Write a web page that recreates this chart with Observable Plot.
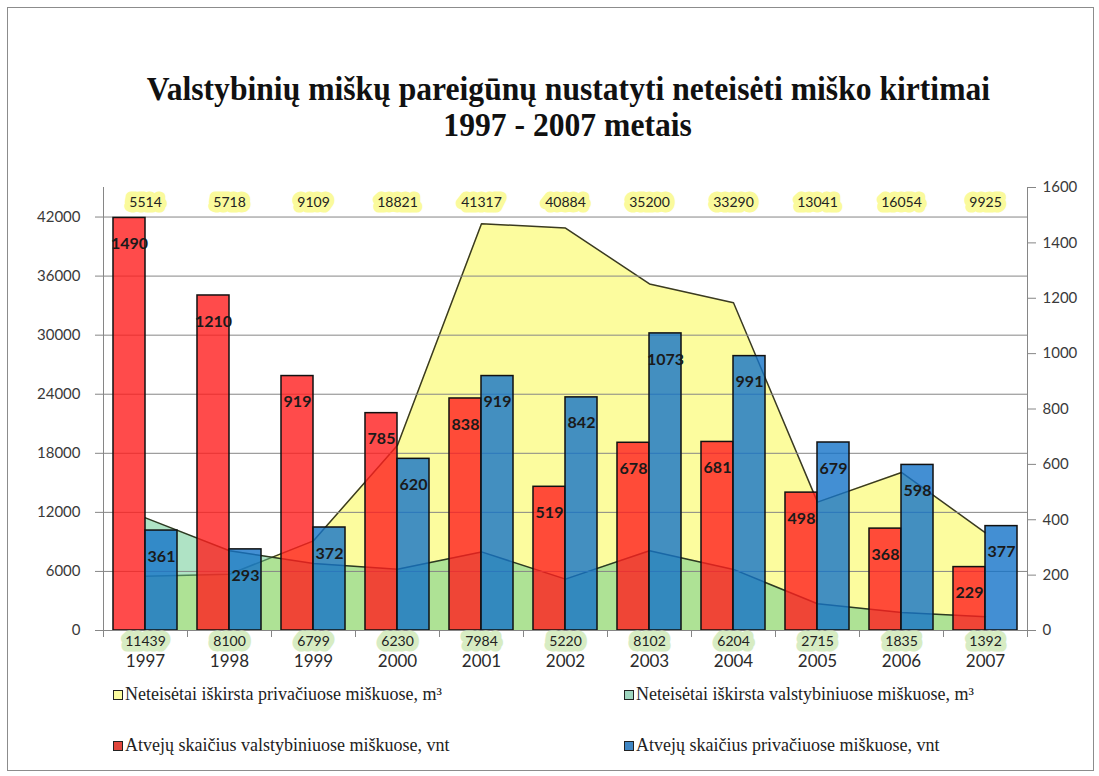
<!DOCTYPE html>
<html><head><meta charset="utf-8">
<script src="https://cdn.jsdelivr.net/npm/d3@7"></script>
<script src="https://cdn.jsdelivr.net/npm/@observablehq/plot@0.6"></script>
<style>
body{margin:0;background:#fff;}
#wrap{position:relative;width:1099px;height:776px;overflow:hidden;background:#fff;}
#frame{position:absolute;left:7px;top:7px;width:1085px;height:762px;border:1px solid #8c8c8c;}
#title{position:absolute;left:0;top:71px;width:1136px;text-align:center;font:bold 34px "Liberation Serif";line-height:36px;color:#111;}
#title span{display:inline-block;transform:scaleX(0.93);}
#chart{position:absolute;left:0;top:160px;}
.leg{position:absolute;font:18px "Liberation Serif";color:#222;white-space:nowrap;}
.sw{display:inline-block;width:8px;height:8px;border:1px solid #222;margin-right:2px;vertical-align:0px;}
</style></head>
<body>
<div id="wrap">
  <div id="frame"></div>
  <div id="title"><span>Valstybinių miškų pareigūnų nustatyti neteisėti miško kirtimai</span><br><span>1997 - 2007 metais</span></div>
  <div id="chart"></div>
  <div id="legend"></div>
</div>
<script>
const years = [1997, 1998, 1999, 2000, 2001, 2002, 2003, 2004, 2005, 2006, 2007];
const privateVolume = [5514, 5718, 9109, 18821, 41317, 40884, 35200, 33290, 13041, 16054, 9925];
const stateVolume = [11439, 8100, 6799, 6230, 7984, 5220, 8102, 6204, 2715, 1835, 1392];
const stateCases = [1490, 1210, 919, 785, 838, 519, 678, 681, 498, 368, 229];
const privateCases = [361, 293, 372, 620, 919, 842, 1073, 991, 679, 598, 377];
const leftTicks = [0, 6000, 12000, 18000, 24000, 30000, 36000, 42000];
const rightTicks = [0, 200, 400, 600, 800, 1000, 1200, 1400, 1600];
const legendItems = [
  {label: "Neteisėtai iškirsta privačiuose miškuose, m³", color: "#fcfca0"},
  {label: "Neteisėtai iškirsta valstybiniuose miškuose, m³", color: "#9fd6c0"},
  {label: "Atvejų skaičius  valstybiniuose miškuose, vnt", color: "#e0463c"},
  {label: "Atvejų skaičius  privačiuose miškuose, vnt", color: "#3f86c4"}
];

const LEFT_MAX = 45000, RIGHT_MAX = 1600, K = LEFT_MAX / RIGHT_MAX;
const BW = 0.381;
const data = years.map((year, i) => ({
  year, pv: privateVolume[i], sv: stateVolume[i], sc: stateCases[i], pc: privateCases[i]
}));

const grid = "#868686";
const numFont = "Lato, 'Open Sans', sans-serif";

const chart = Plot.plot({
  width: 1099,
  height: 520,
  marginLeft: 103,
  marginRight: 72,
  marginTop: 27,
  marginBottom: 50,
  style: {fontFamily: numFont, background: "transparent"},
  x: {type: "linear", domain: [1996.5, 2007.5], axis: null},
  y: {domain: [0, LEFT_MAX], axis: null},
  marks: [
    Plot.areaY(data, {x: "year", y: "pv", fill: "#fcfc9e", curve: "linear"}),
    Plot.lineY(data, {x: "year", y: "pv", stroke: "#3a3a22", strokeWidth: 1.5}),
    Plot.areaY(data, {x: "year", y: "sv", fill: "rgb(95,200,140)", fillOpacity: 0.5}),
    Plot.lineY(data, {x: "year", y: "sv", stroke: "#2e3a22", strokeWidth: 1.5}),
    Plot.ruleY(leftTicks.filter(d => d > 0), {stroke: grid, strokeWidth: 1}),
    Plot.rectY(data, {x1: d => d.year - BW, x2: d => d.year, y: d => d.sc * K,
      fill: "rgb(255,30,30)", fillOpacity: 0.8, stroke: "#111", strokeWidth: 1.5}),
    Plot.rectY(data, {x1: d => d.year, x2: d => d.year + BW, y: d => d.pc * K,
      fill: "rgb(20,115,200)", fillOpacity: 0.8, stroke: "#111", strokeWidth: 1.5}),
    Plot.ruleX([1996.5, 2007.5], {y1: 0, y2: LEFT_MAX, stroke: grid}),
    Plot.ruleY([0], {stroke: grid}),
    Plot.axisY({anchor: "left", ticks: leftTicks, tickFormat: d => String(d), tickSize: 8,
      tickPadding: 15, fontSize: 15, fontFamily: numFont, stroke: grid, fill: "#3a3a3a", label: null}),
    Plot.axisY({anchor: "right", ticks: rightTicks.map(v => v * K), tickFormat: d => String(Math.round(d / K)),
      tickSize: 8, tickPadding: 7, fontSize: 15, fontFamily: numFont, stroke: grid, fill: "#3a3a3a", label: null}),
    Plot.axisX({ticks: d3.range(1996.5, 2008, 1), tickFormat: () => "", tickSize: 7, stroke: grid, label: null}),
    Plot.axisX({ticks: years, tickFormat: d => String(d), tickSize: 0, tickPadding: 24, fontSize: 17,
      fontFamily: numFont, fill: "#2a2a2a", label: null}),
    Plot.text(data, {x: "year", frameAnchor: "top", dy: 10, text: d => String(d.pv), fontSize: 14,
      fontFamily: numFont, fill: "#222", stroke: "#fafa9c", strokeWidth: 11, strokeLinejoin: "round", paintOrder: "stroke"}),
    Plot.text(data, {x: "year", frameAnchor: "bottom", dy: 15, text: d => String(d.sv), fontSize: 14,
      fontFamily: numFont, fill: "#222", stroke: "#d7ecc3", strokeWidth: 11, strokeLinejoin: "round", paintOrder: "stroke"}),
    Plot.text(data, {x: d => d.year - BW / 2, y: d => d.sc * K, dy: 26, text: d => String(d.sc),
      fontSize: 16, fontFamily: numFont, fontWeight: "bold", fill: "#1a1a1a"}),
    Plot.text(data, {x: d => d.year + BW / 2, y: d => d.pc * K, dy: 26, text: d => String(d.pc),
      fontSize: 16, fontFamily: numFont, fontWeight: "bold", fill: "#1a1a1a"})
  ]
});
document.getElementById("chart").appendChild(chart);

const pos = [[113, 684], [624, 684], [113, 735], [624, 735]];
const legend = document.getElementById("legend");
legendItems.forEach((it, i) => {
  const d = document.createElement("div");
  d.className = "leg";
  d.style.left = pos[i][0] + "px";
  d.style.top = pos[i][1] + "px";
  d.innerHTML = `<span class="sw" style="background:${it.color}"></span>${it.label}`;
  legend.appendChild(d);
});
</script>
</body></html>
